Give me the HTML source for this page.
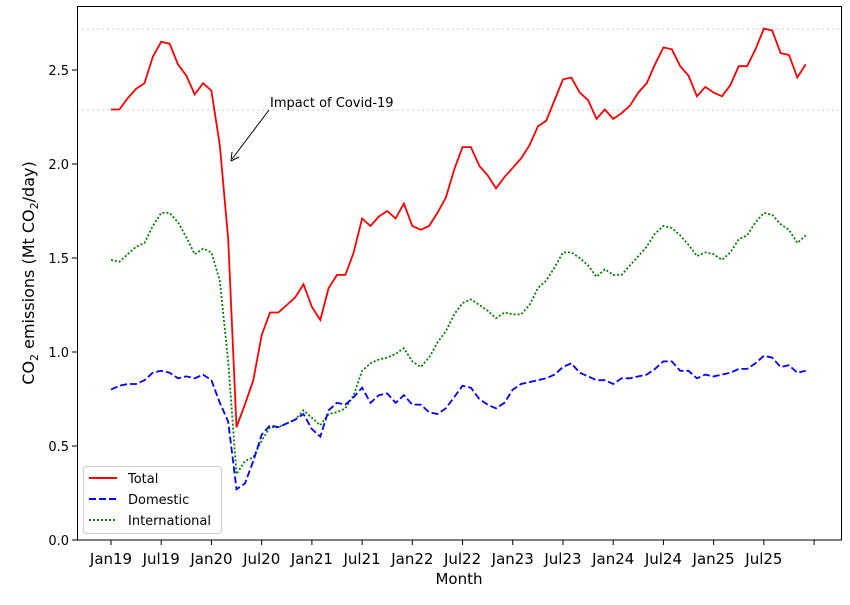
<!DOCTYPE html>
<html><head><meta charset="utf-8"><style>
body{margin:0;background:#fff;}
svg{font-family:"DejaVu Sans","Liberation Sans",sans-serif;}
</style></head><body>
<svg id="s" width="850" height="600" xmlns="http://www.w3.org/2000/svg">
<rect width="850" height="600" fill="#fff"/>
<line x1="77" y1="29" x2="842" y2="29" stroke="#ccc" stroke-dasharray="2,3" stroke-width="1"/>
<line x1="77" y1="110" x2="842" y2="110" stroke="#ccc" stroke-dasharray="2,3" stroke-width="1"/>
<g id="series"></g>
<rect x="77.5" y="6.5" width="764" height="533.5" fill="none" stroke="#000" stroke-width="1"/>
<g id="ticks" font-size="13"></g>
<text x="459" y="584" font-size="15" text-anchor="middle">Month</text>
<text transform="translate(34,273) rotate(-90)" font-size="16" text-anchor="middle">CO<tspan font-size="11" dy="4">2</tspan><tspan dy="-4"> emissions (Mt CO</tspan><tspan font-size="11" dy="4">2</tspan><tspan dy="-4">/day)</tspan></text>
<text x="270" y="107" font-size="13">Impact of Covid-19</text>
<line x1="269" y1="110" x2="232" y2="159" stroke="#000" stroke-width="1"/>
<path d="M231,161 L232,152 M231,161 L239,157" stroke="#000" fill="none"/>
<rect x="83.5" y="466.5" width="138" height="67" rx="3" fill="#fff" stroke="#ccc"/>
<line x1="89" y1="478" x2="117" y2="478" stroke="red" stroke-width="2"/>
<text x="128" y="483" font-size="13">Total</text>
<line x1="89" y1="499" x2="117" y2="499" stroke="blue" stroke-width="2" stroke-dasharray="7,3"/>
<text x="128" y="504" font-size="13">Domestic</text>
<line x1="89" y1="520" x2="117" y2="520" stroke="green" stroke-width="2" stroke-dasharray="2,2"/>
<text x="128" y="525" font-size="13">International</text>
</svg>
<script>
var T=[2.29,2.29,2.35,2.40,2.43,2.57,2.65,2.64,2.53,2.47,2.37,2.43,2.39,2.10,1.60,0.60,0.72,0.85,1.09,1.21,1.21,1.25,1.29,1.36,1.24,1.17,1.34,1.41,1.41,1.53,1.71,1.67,1.72,1.75,1.71,1.79,1.67,1.65,1.67,1.74,1.82,1.97,2.09,2.09,1.99,1.94,1.87,1.93,1.98,2.03,2.10,2.20,2.23,2.34,2.45,2.46,2.38,2.34,2.24,2.29,2.24,2.27,2.31,2.38,2.43,2.53,2.62,2.61,2.52,2.47,2.36,2.41,2.38,2.36,2.42,2.52,2.52,2.61,2.72,2.71,2.59,2.58,2.46,2.53];
var D=[0.80,0.82,0.83,0.83,0.85,0.89,0.90,0.89,0.86,0.87,0.86,0.88,0.85,0.73,0.63,0.27,0.30,0.42,0.56,0.61,0.60,0.62,0.64,0.67,0.59,0.55,0.69,0.73,0.72,0.76,0.81,0.73,0.77,0.78,0.73,0.77,0.72,0.72,0.68,0.67,0.70,0.76,0.82,0.81,0.75,0.72,0.70,0.73,0.80,0.83,0.84,0.85,0.86,0.88,0.92,0.94,0.89,0.87,0.85,0.85,0.83,0.86,0.86,0.87,0.88,0.91,0.95,0.95,0.90,0.90,0.86,0.88,0.87,0.88,0.89,0.91,0.91,0.94,0.98,0.97,0.92,0.93,0.89,0.90];
var I=[1.49,1.48,1.52,1.56,1.58,1.67,1.74,1.74,1.69,1.61,1.52,1.55,1.53,1.38,0.95,0.35,0.42,0.44,0.53,0.60,0.60,0.62,0.64,0.69,0.65,0.61,0.67,0.68,0.70,0.77,0.90,0.94,0.96,0.97,0.99,1.02,0.95,0.92,0.97,1.05,1.11,1.20,1.26,1.28,1.25,1.22,1.18,1.21,1.20,1.20,1.25,1.34,1.38,1.45,1.53,1.53,1.50,1.46,1.40,1.44,1.41,1.41,1.46,1.51,1.56,1.63,1.67,1.66,1.62,1.57,1.51,1.53,1.52,1.49,1.53,1.60,1.62,1.69,1.74,1.73,1.68,1.65,1.58,1.62];
function X(i){return 111+8.37*i}function Y(v){return 540-188*v}
function p(a){return a.map(function(v,i){return(i?'L':'M')+X(i).toFixed(1)+','+Y(v).toFixed(1)}).join('')}
var g=document.getElementById('series'),ns='http://www.w3.org/2000/svg';
[[I,'green','2,2'],[D,'blue','7,3'],[T,'red','']].forEach(function(s){var e=document.createElementNS(ns,'path');e.setAttribute('d',p(s[0]));e.setAttribute('stroke',s[1]);e.setAttribute('fill','none');e.setAttribute('stroke-width','1.8');if(s[2])e.setAttribute('stroke-dasharray',s[2]);g.appendChild(e);});
var t=document.getElementById('ticks'),h='';
var L=['Jan19','Jul19','Jan20','Jul20','Jan21','Jul21','Jan22','Jul22','Jan23','Jul23','Jan24','Jul24','Jan25','Jul25',''];
L.forEach(function(l,k){var x=X(6*k);h+='<line x1="'+x+'" y1="540" x2="'+x+'" y2="545" stroke="#000"/>';if(l)h+='<text x="'+x+'" y="564" font-size="15" text-anchor="middle">'+l+'</text>';});
for(var k=0;k<=5;k++){var v=k*0.5,y=Y(v);h+='<line x1="72" y1="'+y+'" x2="77" y2="'+y+'" stroke="#000"/><text x="69" y="'+(y+5)+'" text-anchor="end">'+v.toFixed(1)+'</text>';}
t.innerHTML=h;
</script>
</body></html>
